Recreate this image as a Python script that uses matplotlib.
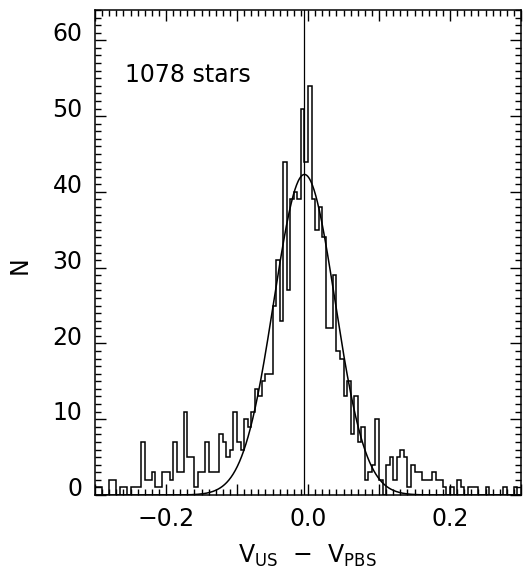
import matplotlib
matplotlib.use("Agg")
import matplotlib.pyplot as plt
import numpy as np
from matplotlib.ticker import MultipleLocator, FuncFormatter
from matplotlib.transforms import ScaledTranslation

# histogram of V_US - V_PBS, bins of 0.005 from -0.3 to 0.3
bin_start = -0.3
bin_width = 0.005
counts = [1, 1, 0, 0, 2, 2, 0, 1, 1, 0, 1, 1, 1, 7, 2, 2, 3, 1, 1, 3,
          3, 2, 7, 3, 3, 11, 5, 5, 1, 3, 3,
          7, 3, 3, 3, 8, 7, 5, 6, 11, 7, 6, 10, 9, 11, 14, 13, 15, 16, 16,
          25, 31, 23, 44, 27, 39, 40, 39, 51, 44, 54, 39, 35, 38, 34, 22, 22, 29, 19,
          18, 13, 15, 8, 13, 7, 9, 2, 3, 4, 10, 2, 0, 4, 5, 2, 5, 6,
          5, 1, 4, 3, 3, 2, 2, 2, 3, 2, 2, 1, 0, 1, 0, 2, 1, 0, 1, 1,
          1, 0, 0, 1, 0, 0, 0, 0, 1, 0, 0, 1, 0]

# gaussian fit and the vertical marker line
fit_mean = -0.005
fit_sigma = 0.043
fit_peak = 42.3
marker_x = -0.006
n_stars = 1078

edges = bin_start + bin_width * np.arange(len(counts) + 1)

fig = plt.figure(figsize=(5.23, 5.79), dpi=100)
ax = fig.add_axes([95 / 523, 1 - 495 / 579, 426 / 523, 485 / 579])

ax.stairs(counts, edges, color="black", lw=1.1, baseline=0)

xs = np.linspace(-0.3, 0.3, 800)
ax.plot(xs, fit_peak * np.exp(-0.5 * ((xs - fit_mean) / fit_sigma) ** 2),
        color="black", lw=1.1)
ax.axvline(marker_x, color="black", lw=0.9)

ax.set_xlim(-0.3, 0.3)
ax.set_ylim(0, 64)

ax.xaxis.set_major_locator(MultipleLocator(0.1))
ax.xaxis.set_minor_locator(MultipleLocator(0.01))
ax.yaxis.set_major_locator(MultipleLocator(10))
ax.yaxis.set_minor_locator(MultipleLocator(1))
ax.xaxis.set_major_formatter(FuncFormatter(
    lambda v, p: ("%.1f" % v).replace("-", "\u2212") if round(v / 0.1) % 2 == 0 else ""))
ax.yaxis.set_major_formatter(FuncFormatter(lambda v, p: "%d" % v))

ax.tick_params(which="both", direction="in", top=True, right=True, width=1.0,
               labelsize=17)
ax.tick_params(which="major", length=8)
ax.tick_params(which="minor", length=4)
ax.tick_params(axis="x", pad=9)
ax.tick_params(axis="y", pad=9)
for sp in ax.spines.values():
    sp.set_linewidth(1.1)

# IDL puts the y labels a bit above their ticks
for lab in ax.get_yticklabels():
    lab.set_transform(lab.get_transform() + ScaledTranslation(0, 6 / 72, fig.dpi_scale_trans))

ax.text(-0.258, 55.4, "%d stars" % n_stars, fontsize=17, ha="left", va="center")

fig.text(20 / 523, 1 - 265 / 579, "N", rotation=90, fontsize=17, ha="center", va="center")
fig.text(307 / 523, 1 - 556 / 579,
         r"V$_{\mathregular{US}}$  $-$  V$_{\mathregular{PBS}}$",
         fontsize=17, ha="center", va="center")

fig.savefig("out.png", dpi=100)
